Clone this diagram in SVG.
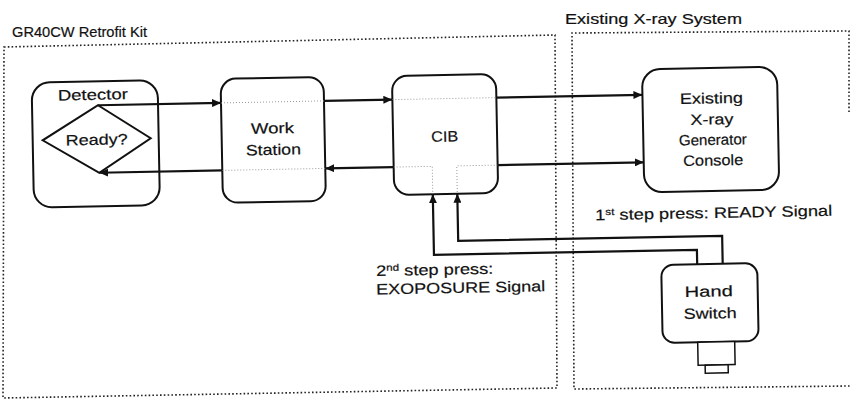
<svg xmlns="http://www.w3.org/2000/svg" width="850" height="410" viewBox="0 0 850 410">
<defs>
<style>
.box{fill:#fff;stroke:#111;stroke-width:2}
.bound{fill:none;stroke:#222;stroke-width:1.6;stroke-dasharray:1.6 2.2}
.wire{fill:none;stroke:#111;stroke-width:2.2}
.faint{fill:none;stroke:#999;stroke-width:1;stroke-dasharray:1 2}
text{font-family:"Liberation Sans",Arial,sans-serif;font-size:15px;fill:#111;stroke:#111;stroke-width:0.2}
.c{text-anchor:middle}
</style>
<marker id="arr" markerUnits="userSpaceOnUse" markerWidth="9" markerHeight="8" refX="9" refY="4" orient="auto">
<path d="M0,0 L9,4 L0,8 z" fill="#111"/>
</marker>
</defs>
<rect width="850" height="410" fill="#fff"/>
<g id="boundaries">
<path class="bound" d="M4,47 L555,35 L557,388 L3,398 Z"/>
<path class="bound" d="M849,112 L849,31 L572,33 L574,389 L850,386"/>
<text x="12" y="37" textLength="135" lengthAdjust="spacingAndGlyphs">GR40CW Retrofit Kit</text>
<text x="565" y="24" textLength="177" lengthAdjust="spacingAndGlyphs">Existing X-ray System</text>
</g>
<g transform="rotate(-1.1 425 205)">
<g id="detector">
<rect class="box" x="34" y="75" width="126" height="125" rx="18"/>
<path class="box" d="M100,99 L152,133 L100,166.5 L44,133 Z"/>
<text class="c" x="95" y="93.5" textLength="70" lengthAdjust="spacingAndGlyphs">Detector</text>
<text class="c" x="98" y="138.5" textLength="62" lengthAdjust="spacingAndGlyphs">Ready?</text>
</g>
<g id="workstation">
<rect class="box" x="223" y="75" width="103" height="124" rx="15"/>
<text class="c" x="274" y="130.5" textLength="43" lengthAdjust="spacingAndGlyphs">Work</text>
<text class="c" x="274.5" y="152" textLength="55" lengthAdjust="spacingAndGlyphs">Station</text>
</g>
<g id="cib">
<rect class="box" x="394.4" y="75.4" width="104" height="119" rx="15"/>
<text class="c" x="446" y="142" textLength="27" lengthAdjust="spacingAndGlyphs">CIB</text>
</g>
<g id="generator">
<rect class="box" x="644.5" y="73.5" width="135" height="123" rx="18"/>
<text class="c" x="713.5" y="109" textLength="63" lengthAdjust="spacingAndGlyphs">Existing</text>
<text class="c" x="713.5" y="130" textLength="43" lengthAdjust="spacingAndGlyphs">X-ray</text>
<text class="c" x="714" y="150.5" textLength="68" lengthAdjust="spacingAndGlyphs">Generator</text>
<text class="c" x="714" y="171" textLength="60" lengthAdjust="spacingAndGlyphs">Console</text>
</g>
<g id="handswitch">
<rect class="box" x="660" y="269.5" width="96" height="78" rx="12"/>
<rect class="box" style="stroke-width:1.5" x="695" y="347.5" width="37" height="23"/>
<rect class="box" style="stroke-width:1.5" x="702" y="370.5" width="23" height="8"/>
<text class="c" x="707" y="302" textLength="48" lengthAdjust="spacingAndGlyphs">Hand</text>
<text class="c" x="708" y="324" textLength="53" lengthAdjust="spacingAndGlyphs">Switch</text>
</g>
<g id="connectors">
<path class="faint" d="M223,99 H326 M223,166.5 H326 M394.4,99 H498.4 M394.4,166.5 H433 V194.4 M498.4,166.5 H457.5 V194.4"/>
<path class="wire" d="M100,99 H223" marker-end="url(#arr)"/>
<path class="wire" d="M326,99 H394.4" marker-end="url(#arr)"/>
<path class="wire" d="M498.4,99 H644.5" marker-end="url(#arr)"/>
<path class="wire" d="M498.4,166.5 H644.5" marker-end="url(#arr)"/>
<path class="wire" d="M394.4,166.5 H326" marker-end="url(#arr)"/>
<path class="wire" d="M223,166.5 H100" marker-end="url(#arr)"/>
<path class="wire" d="M721.5,269.5 V241.5 H457.5 V194.4" marker-end="url(#arr)"/>
<path class="wire" d="M696,269.5 V255 H433 V194.4" marker-end="url(#arr)"/>
</g>
<g id="labels">
<text x="595" y="223.5" textLength="237" lengthAdjust="spacingAndGlyphs">1<tspan font-size="9.5" dy="-5">st</tspan><tspan dy="5"> step press: READY Signal</tspan></text>
<text x="375" y="275" textLength="117" lengthAdjust="spacingAndGlyphs">2<tspan font-size="9.5" dy="-5">nd</tspan><tspan dy="5"> step press:</tspan></text>
<text x="374.5" y="293.5" textLength="169" lengthAdjust="spacingAndGlyphs">EXOPOSURE Signal</text>
</g>
</g>
</svg>
